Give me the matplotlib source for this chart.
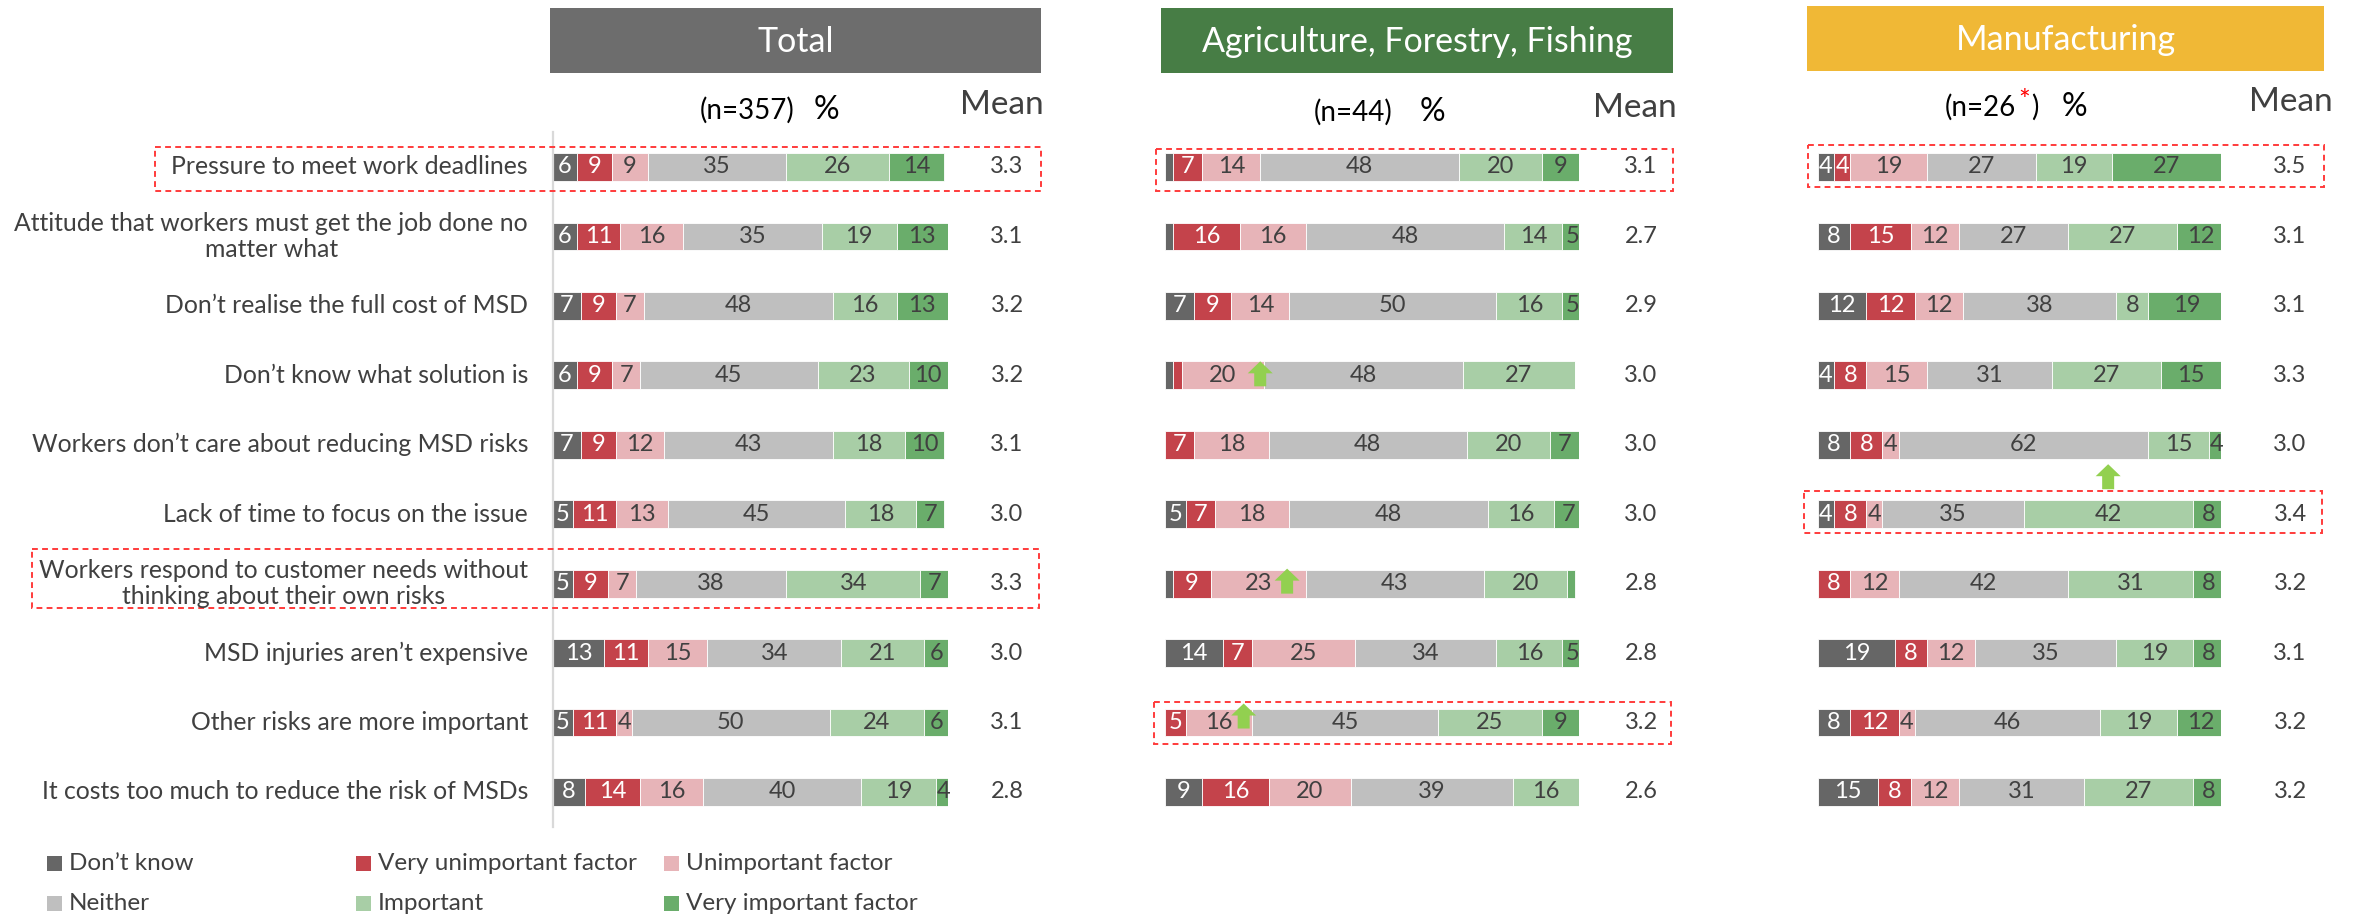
import matplotlib
matplotlib.use("Agg")
import matplotlib.pyplot as plt
import matplotlib.transforms as mtransforms
from matplotlib.patches import Rectangle, Polygon

W, H = 2358, 917
DPI = 100
plt.rcParams['font.family'] = ['Lato', 'DejaVu Sans']

# ---------------------------------------------------------------- data
statements = [
    "Pressure to meet work deadlines",
    "Attitude that workers must get the job done no\nmatter what",
    "Don\u2019t realise the full cost of MSD",
    "Don\u2019t know what solution is",
    "Workers don\u2019t care about reducing MSD risks",
    "Lack of time to focus on the issue",
    "Workers respond to customer needs without\nthinking about their own risks",
    "MSD injuries aren\u2019t expensive",
    "Other risks are more important",
    "It costs too much to reduce the risk of MSDs",
]

responses = ["Don\u2019t know", "Very unimportant factor", "Unimportant factor",
             "Neither", "Important", "Very important factor"]
response_colors = ["#666666", "#C4434B", "#E7B4B8", "#BFBFBF", "#A8CEA6", "#6AAD6B"]
label_colors = ["white", "white", "#404040", "#404040", "#404040", "#404040"]

# shares per statement: don't know, very unimportant, unimportant, neither, important, very important
total_shares = [
    [6, 9, 9, 35, 26, 14],
    [6, 11, 16, 35, 19, 13],
    [7, 9, 7, 48, 16, 13],
    [6, 9, 7, 45, 23, 10],
    [7, 9, 12, 43, 18, 10],
    [5, 11, 13, 45, 18, 7],
    [5, 9, 7, 38, 34, 7],
    [13, 11, 15, 34, 21, 6],
    [5, 11, 4, 50, 24, 6],
    [8, 14, 16, 40, 19, 4],
]
total_means = [3.3, 3.1, 3.2, 3.2, 3.1, 3.0, 3.3, 3.0, 3.1, 2.8]

agri_shares = [
    [2, 7, 14, 48, 20, 9],
    [2, 16, 16, 48, 14, 5],
    [7, 9, 14, 50, 16, 5],
    [2, 2, 20, 48, 27, 0],
    [0, 7, 18, 48, 20, 7],
    [5, 7, 18, 48, 16, 7],
    [2, 9, 23, 43, 20, 2],
    [14, 7, 25, 34, 16, 5],
    [0, 5, 16, 45, 25, 9],
    [9, 16, 20, 39, 16, 0],
]
agri_means = [3.1, 2.7, 2.9, 3.0, 3.0, 3.0, 2.8, 2.8, 3.2, 2.6]

manu_shares = [
    [4, 4, 19, 27, 19, 27],
    [8, 15, 12, 27, 27, 12],
    [12, 12, 12, 38, 8, 19],
    [4, 8, 15, 31, 27, 15],
    [8, 8, 4, 62, 15, 4],
    [4, 8, 4, 35, 42, 8],
    [0, 8, 12, 42, 31, 8],
    [19, 8, 12, 35, 19, 8],
    [8, 12, 4, 46, 19, 12],
    [15, 8, 12, 31, 27, 8],
]
manu_means = [3.5, 3.1, 3.1, 3.3, 3.0, 3.4, 3.2, 3.1, 3.2, 3.2]

panel_titles = ["Total", "Agriculture, Forestry, Fishing", "Manufacturing"]
panel_bases = ["(n=357)", "(n=44)", "(n=26"]
header_colors = ["#6D6D6D", "#477D45", "#F0B836"]

TEXT = "#404040"

# ---------------------------------------------------------------- layout
fig = plt.figure(figsize=(W / DPI, H / DPI), dpi=DPI)
# pixel coordinates measured from the top-left corner
PX = mtransforms.Affine2D().scale(1.0 / W, -1.0 / H).translate(0, 1) + fig.transFigure

ROW0, ROWSTEP = 167.0, 69.44
AX_TOP = ROW0 - 0.5 * ROWSTEP
AX_BOT = ROW0 + 9.5 * ROWSTEP

panels = [
    dict(shares=total_shares, means=total_means, left=553, width=395,
         header=(550, 8, 491, 65), mean_x=1007, mean_hdr=(1002, 105),
         base_x=747, pct_x=826, base_y=110),
    dict(shares=agri_shares, means=agri_means, left=1165, width=414,
         header=(1161, 8, 512, 65), mean_x=1641, mean_hdr=(1635, 108),
         base_x=1353, pct_x=1432, base_y=112),
    dict(shares=manu_shares, means=manu_means, left=1818, width=403,
         header=(1807, 6, 517, 65), mean_x=2290, mean_hdr=(2291, 102),
         base_x=None, pct_x=2074, base_y=107),
]

axes = []
for i, p in enumerate(panels):
    ax = fig.add_axes([p["left"] / W, 1 - AX_BOT / H, p["width"] / W, (AX_BOT - AX_TOP) / H])
    ax.set_xlim(0, 100)
    ax.set_ylim(9.5, -0.5)
    ax.set_xticks([])
    ax.set_yticks([])
    for s in ax.spines.values():
        s.set_visible(False)
    if i == 0:
        ax.spines["left"].set_visible(True)
        ax.spines["left"].set_color("#D9D9D9")
        ax.spines["left"].set_linewidth(1.6)
    axes.append(ax)

    rows = list(range(len(statements)))
    lefts = [0.0] * len(rows)
    for k in range(len(responses)):
        vals = [r[k] for r in p["shares"]]
        ax.barh(rows, vals, left=lefts, height=0.40, color=response_colors[k],
                edgecolor="white", linewidth=0.6, zorder=2)
        for r, (v, l0) in enumerate(zip(vals, lefts)):
            if v >= 3:
                ax.text(l0 + v / 2, r, f"{v}", ha="center", va="center",
                        fontsize=17, color=label_colors[k], zorder=3)
        lefts = [a + b for a, b in zip(lefts, vals)]

    # means to the right of the bars
    mx = (p["mean_x"] - p["left"]) / p["width"] * 100
    for r, m in enumerate(p["means"]):
        ax.text(mx, r, f"{m:.1f}", ha="center", va="center", fontsize=17,
                color=TEXT, clip_on=False)

    # coloured header band
    hx, hy, hw, hh = p["header"]
    fig.add_artist(Rectangle((hx, hy), hw, hh, transform=PX,
                             facecolor=header_colors[i], edgecolor="none"))
    fig.text(hx + hw / 2, hy + hh / 2 + 1, panel_titles[i], transform=PX,
             ha="center", va="center", fontsize=24.5, color="white")

    fig.text(p["mean_hdr"][0], p["mean_hdr"][1], "Mean", transform=PX,
             ha="center", va="center", fontsize=24, color=TEXT)
    fig.text(p["pct_x"], p["base_y"], "%", transform=PX, ha="center",
             va="center", fontsize=23, color="black")
    if p["base_x"] is not None:
        fig.text(p["base_x"], p["base_y"], panel_bases[i], transform=PX,
                 ha="center", va="center", fontsize=20, color="black")

# low base marker on the manufacturing sample size
fig.text(2016, 107, panel_bases[2], transform=PX, ha="right", va="center",
         fontsize=20, color="black")
fig.text(2024, 102, "*", transform=PX, ha="center", va="center",
         fontsize=20, color="#FF0000")
fig.text(2031, 107, ")", transform=PX, ha="left", va="center",
         fontsize=20, color="black")

# statement labels
for r, s in enumerate(statements):
    fig.text(528, ROW0 + r * ROWSTEP, s, transform=PX, ha="right", va="center",
             multialignment="center", fontsize=17.8, color=TEXT, linespacing=1.12)

# highlighted statements
highlight_boxes = [
    (155, 147, 886, 44),
    (32, 549, 1007, 59),
    (1156, 149, 517, 42),
    (1154, 702, 517, 42),
    (1808, 145, 516, 42),
    (1804, 491, 518, 42),
]
for x, y, w, h in highlight_boxes:
    fig.add_artist(Rectangle((x, y), w, h, transform=PX, fill=False,
                             edgecolor="#FF3B3B", linewidth=1.4,
                             linestyle=(0, (3, 2.2))))

# significant increase markers: (panel, row, x position in %, tip offset in px)
up_arrows = [
    (1, 3, 23.0, -14),
    (1, 6, 29.5, -15),
    (1, 8, 19.0, -19),
    (2, 5, 72.0, -50),
]
for pi, r, xp, dy in up_arrows:
    p = panels[pi]
    cx = p["left"] + xp / 100 * p["width"]
    tip = ROW0 + r * ROWSTEP + dy
    pts = [(cx, tip), (cx + 12.5, tip + 12), (cx + 6, tip + 12), (cx + 6, tip + 25),
           (cx - 6, tip + 25), (cx - 6, tip + 12), (cx - 12.5, tip + 12)]
    fig.add_artist(Polygon(pts, closed=True, transform=PX, facecolor="#92D050",
                           edgecolor="none", zorder=5))

# legend
legend_cols = [47, 356, 664]
legend_rows = [863, 903]
order = [(0, 0), (0, 1), (0, 2), (1, 0), (1, 1), (1, 2)]
for k, (ri, ci) in enumerate(order):
    x, y = legend_cols[ci], legend_rows[ri]
    fig.add_artist(Rectangle((x, y - 7.5), 15, 15, transform=PX,
                             facecolor=response_colors[k], edgecolor="none"))
    fig.text(x + 22, y, responses[k], transform=PX, ha="left", va="center",
             fontsize=17.5, color=TEXT)

fig.savefig("out.png", dpi=DPI)
